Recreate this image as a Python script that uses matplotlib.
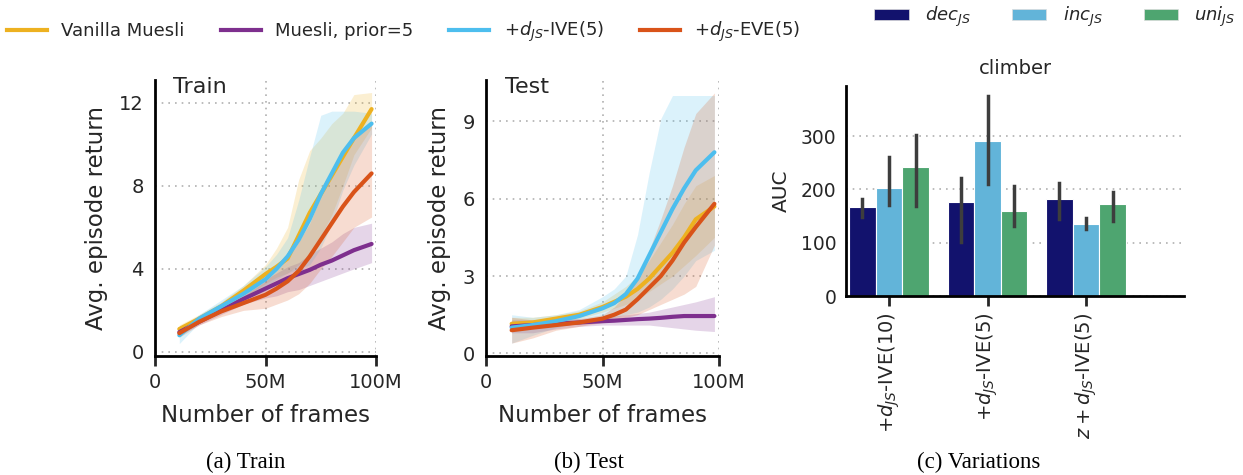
import numpy as np
import matplotlib
matplotlib.use("Agg")
import matplotlib.pyplot as plt
from matplotlib.lines import Line2D
from matplotlib.patches import Patch

# ---- data (frames in millions) ----
frames = [11, 20, 30, 40, 50, 55, 60, 65, 70, 75, 80, 85, 90, 98]

train_vanilla = [1.1, 1.6, 2.2, 2.95, 3.75, 4.1, 4.5, 5.6, 6.7, 7.6, 8.5, 9.4, 10.3, 11.7]
train_vanilla_lo = [0.9, 1.4, 2.0, 2.6, 3.3, 3.6, 3.8, 4.2, 4.6, 5.6, 6.6, 8.0, 9.5, 10.8]
train_vanilla_hi = [1.3, 1.8, 2.4, 3.2, 4.2, 5.0, 6.0, 8.3, 9.7, 10.3, 11.0, 11.5, 12.4, 12.5]
train_prior = [0.95, 1.45, 2.0, 2.55, 3.05, 3.3, 3.55, 3.75, 3.95, 4.2, 4.4, 4.65, 4.9, 5.2]
train_prior_lo = [0.8, 1.3, 1.8, 2.3, 2.6, 2.7, 2.9, 3.0, 3.2, 3.4, 3.6, 3.8, 4.0, 4.3]
train_prior_hi = [1.1, 1.6, 2.2, 2.8, 3.5, 3.8, 4.1, 4.3, 4.7, 5.0, 5.3, 5.7, 6.0, 6.2]
train_ive = [0.8, 1.6, 2.2, 2.8, 3.5, 4.0, 4.6, 5.4, 6.4, 7.6, 8.6, 9.6, 10.3, 11.0]
train_ive_lo = [0.4, 1.4, 2.0, 2.5, 3.1, 3.5, 3.8, 4.0, 4.2, 5.0, 6.2, 7.8, 9.0, 10.5]
train_ive_hi = [1.1, 1.8, 2.5, 3.2, 4.1, 4.7, 5.5, 7.3, 9.4, 11.4, 11.6, 11.6, 11.6, 11.5]
train_eve = [0.9, 1.45, 1.95, 2.35, 2.75, 3.05, 3.4, 3.9, 4.6, 5.4, 6.2, 7.0, 7.7, 8.6]
train_eve_lo = [0.7, 1.3, 1.7, 2.0, 2.1, 2.3, 2.5, 2.8, 3.3, 4.0, 4.6, 5.3, 6.0, 6.5]
train_eve_hi = [1.1, 1.6, 2.2, 2.7, 3.4, 3.9, 4.5, 5.3, 6.2, 7.5, 8.6, 9.6, 10.4, 11.0]

test_vanilla = [1.15, 1.2, 1.35, 1.5, 1.8, 2.0, 2.2, 2.5, 2.9, 3.4, 3.9, 4.5, 5.2, 5.7]
test_vanilla_lo = [0.9, 1.0, 1.2, 1.35, 1.6, 1.75, 1.9, 2.1, 2.4, 2.7, 3.0, 3.4, 3.8, 4.5]
test_vanilla_hi = [1.4, 1.4, 1.5, 1.65, 2.0, 2.3, 2.6, 3.0, 3.6, 4.3, 5.0, 5.8, 6.5, 6.9]
test_prior = [1.05, 1.1, 1.15, 1.2, 1.25, 1.27, 1.3, 1.33, 1.35, 1.38, 1.42, 1.45, 1.45, 1.45]
test_prior_lo = [0.8, 0.8, 0.95, 1.05, 1.1, 1.1, 1.1, 1.1, 1.1, 1.05, 1.0, 0.95, 0.9, 0.85]
test_prior_hi = [1.3, 1.3, 1.3, 1.35, 1.4, 1.45, 1.5, 1.55, 1.6, 1.7, 1.8, 1.9, 2.0, 2.2]
test_ive = [1.0, 1.1, 1.25, 1.45, 1.75, 1.95, 2.3, 2.9, 3.8, 4.7, 5.6, 6.4, 7.1, 7.8]
test_ive_lo = [0.4, 0.7, 1.0, 1.2, 1.3, 1.4, 1.5, 1.6, 1.8, 2.1, 2.5, 3.0, 3.6, 4.0]
test_ive_hi = [1.5, 1.4, 1.5, 1.7, 2.2, 2.5, 3.0, 4.6, 7.0, 9.1, 10.0, 10.0, 10.0, 10.0]
test_eve = [0.9, 1.0, 1.1, 1.2, 1.35, 1.5, 1.7, 2.1, 2.55, 3.0, 3.6, 4.3, 4.9, 5.8]
test_eve_lo = [0.4, 0.6, 0.9, 1.05, 1.2, 1.3, 1.4, 1.5, 1.7, 1.9, 2.1, 2.3, 2.6, 4.2]
test_eve_hi = [1.4, 1.3, 1.3, 1.35, 1.5, 1.8, 2.3, 3.0, 4.0, 5.2, 6.5, 8.0, 9.3, 10.1]

variations = ["+$d_{JS}$-IVE(10)", "+$d_{JS}$-IVE(5)", "$z + d_{JS}$-IVE(5)"]
auc_dec = [167, 177, 182]
auc_dec_err = [(149, 183), (101, 222), (145, 213)]
auc_inc = [203, 291, 136]
auc_inc_err = [(171, 261), (210, 375), (125, 146)]
auc_uni = [242, 159, 173]
auc_uni_err = [(169, 302), (131, 207), (141, 196)]

C_VAN, C_PRI, C_IVE, C_EVE = "#EDB120", "#7E2F8E", "#4DBEEE", "#D95319"
C_DEC, C_INC, C_UNI = "#12126d", "#62b4d9", "#4ea570"
TXT = "#262626"

plt.rcParams["font.family"] = "DejaVu Sans"
plt.rcParams["text.color"] = TXT
plt.rcParams["axes.labelcolor"] = TXT
plt.rcParams["xtick.color"] = TXT
plt.rcParams["ytick.color"] = TXT

fig = plt.figure(figsize=(12.43, 4.75), dpi=100)
ax_a = fig.add_axes([0.1247, 0.2505, 0.1778, 0.581])
ax_b = fig.add_axes([0.391, 0.2505, 0.1875, 0.581])
ax_c = fig.add_axes([0.6806, 0.3768, 0.272, 0.442])


def style_curve_axes(ax, yticks, ylim, title):
    ax.set_xlim(0, 100)
    ax.set_ylim(*ylim)
    ax.set_xticks([0, 50, 100])
    ax.set_xticklabels(["0", "50M", "100M"])
    ax.set_yticks(yticks)
    ax.grid(True, linestyle=(0, (1, 3)), color="#b0b0b0", linewidth=1.2)
    ax.set_axisbelow(True)
    for s in ["top", "right"]:
        ax.spines[s].set_visible(False)
    for s in ["left", "bottom"]:
        ax.spines[s].set_linewidth(2)
        ax.spines[s].set_color("black")
    ax.tick_params(axis="x", length=7, width=2, labelsize=14, pad=5)
    ax.tick_params(axis="y", length=0, labelsize=14, pad=8)
    ax.set_xlabel("Number of frames", fontsize=16.5, labelpad=9)
    ax.set_ylabel("Avg. episode return", fontsize=16.5, labelpad=8)
    ax.text(0.08, 0.975, title, transform=ax.transAxes, fontsize=16, va="center", ha="left")


def draw(ax, mean, lo, hi, color):
    ax.fill_between(frames, lo, hi, color=color, alpha=0.2, linewidth=0)
    ax.plot(frames, mean, color=color, linewidth=3, solid_capstyle="round")


for m, lo, hi, c in [(train_vanilla, train_vanilla_lo, train_vanilla_hi, C_VAN),
                     (train_prior, train_prior_lo, train_prior_hi, C_PRI),
                     (train_ive, train_ive_lo, train_ive_hi, C_IVE),
                     (train_eve, train_eve_lo, train_eve_hi, C_EVE)]:
    draw(ax_a, m, lo, hi, c)
style_curve_axes(ax_a, [0, 4, 8, 12], (-0.2, 13.1), "Train")

for m, lo, hi, c in [(test_vanilla, test_vanilla_lo, test_vanilla_hi, C_VAN),
                     (test_prior, test_prior_lo, test_prior_hi, C_PRI),
                     (test_ive, test_ive_lo, test_ive_hi, C_IVE),
                     (test_eve, test_eve_lo, test_eve_hi, C_EVE)]:
    draw(ax_b, m, lo, hi, c)
style_curve_axes(ax_b, [0, 3, 6, 9], (-0.1, 10.6), "Test")

# ---- bar panel ----
x = np.arange(len(variations))
w = 0.27
for i, (vals, errs, col) in enumerate([(auc_dec, auc_dec_err, C_DEC),
                                       (auc_inc, auc_inc_err, C_INC),
                                       (auc_uni, auc_uni_err, C_UNI)]):
    xs = x + (i - 1) * w
    ax_c.bar(xs, vals, width=w, color=col, edgecolor="white", linewidth=0.8, zorder=2)
    for xi, (lo, hi) in zip(xs, errs):
        ax_c.plot([xi, xi], [lo, hi], color="#3d3d3d", linewidth=2.5, zorder=3)

ax_c.set_xlim(-0.437, 2.995)
ax_c.set_ylim(0, 394)
ax_c.set_yticks([0, 100, 200, 300])
ax_c.set_xticks(x)
ax_c.set_xticklabels(variations, rotation=90, fontsize=14)
ax_c.yaxis.grid(True, linestyle=(0, (1, 3)), color="#b0b0b0", linewidth=1.2)
ax_c.set_axisbelow(True)
for s in ["top", "right"]:
    ax_c.spines[s].set_visible(False)
for s in ["left", "bottom"]:
    ax_c.spines[s].set_linewidth(2)
    ax_c.spines[s].set_color("black")
ax_c.tick_params(axis="x", length=7, width=2, pad=5)
ax_c.tick_params(axis="y", length=0, labelsize=13.5, pad=7)
ax_c.set_ylabel("AUC", fontsize=14.5, labelpad=7)
ax_c.set_title("climber", fontsize=14, pad=9)

# ---- legends ----
line_handles = [Line2D([0], [0], color=c, linewidth=3) for c in [C_VAN, C_PRI, C_IVE, C_EVE]]
line_labels = ["Vanilla Muesli", "Muesli, prior=5", "+$d_{JS}$-IVE(5)", "+$d_{JS}$-EVE(5)"]
fig.legend(line_handles, line_labels, loc="center left", bbox_to_anchor=(0.0, 1 - 32 / 475),
           ncol=4, frameon=False, fontsize=13, handlelength=2.2, handletextpad=0.8,
           columnspacing=2.0, borderaxespad=0, borderpad=0.4)

bar_handles = [Patch(facecolor=c, edgecolor="#dddddd", linewidth=0.5) for c in [C_DEC, C_INC, C_UNI]]
bar_labels = ["$dec_{JS}$", "$inc_{JS}$", "$uni_{JS}$"]
fig.legend(bar_handles, bar_labels, loc="center left", bbox_to_anchor=(0.6975, 1 - 17 / 475),
           ncol=3, frameon=False, fontsize=13, handlelength=1.9, handleheight=0.55,
           handletextpad=0.9, columnspacing=2.3, borderaxespad=0, borderpad=0.4)

# ---- captions ----
for cx, cap in [(246, "(a) Train"), (589, "(b) Test"), (979, "(c) Variations")]:
    fig.text(cx / 1243, 1 - 462 / 475, cap, ha="center", va="center",
             family="Liberation Serif", fontsize=16.5, color="black")

fig.savefig("out.png", dpi=100)
